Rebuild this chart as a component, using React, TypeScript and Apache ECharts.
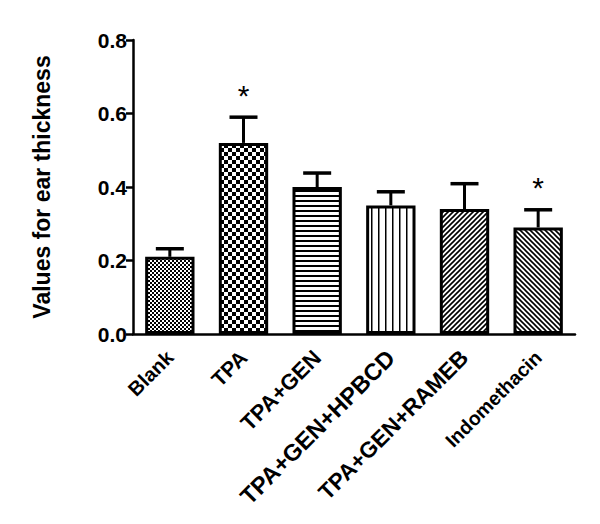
import React, { useEffect, useRef } from "react";
import * as echarts from "echarts";

const categories = ["Blank", "TPA", "TPA+GEN", "TPA+GEN+HPBCD", "TPA+GEN+RAMEB", "Indomethacin"];
const means = [0.21, 0.52, 0.40, 0.35, 0.34, 0.29];
const errors = [0.022, 0.07, 0.038, 0.037, 0.069, 0.048];
const significant = [false, true, false, false, false, true];
const yTicks = [0, 0.2, 0.4, 0.6, 0.8];

// per-label font sizes (styling only)
const labelSizes = [20, 21, 22, 23.5, 22.5, 19.5];

function makeCanvas(w: number, h: number, draw: (ctx: CanvasRenderingContext2D) => void) {
  const c = document.createElement("canvas");
  c.width = w;
  c.height = h;
  const ctx = c.getContext("2d")!;
  ctx.fillStyle = "#fff";
  ctx.fillRect(0, 0, w, h);
  ctx.fillStyle = "#000";
  ctx.strokeStyle = "#000";
  draw(ctx);
  return c;
}

function checker(cell: number) {
  return makeCanvas(cell * 2, cell * 2, (ctx) => {
    ctx.fillRect(0, 0, cell, cell);
    ctx.fillRect(cell, cell, cell, cell);
  });
}

function horiz() {
  return makeCanvas(6, 5, (ctx) => {
    ctx.fillRect(0, 0, 6, 2);
  });
}

function vert() {
  return makeCanvas(7, 7, (ctx) => {
    ctx.fillRect(0, 0, 1.5, 7);
  });
}

function diag(forward: boolean) {
  const s = 5;
  return makeCanvas(s, s, (ctx) => {
    ctx.lineWidth = 1.6;
    ctx.beginPath();
    for (let k = -1; k <= 1; k++) {
      if (forward) {
        ctx.moveTo(k * s - 1, s + 1);
        ctx.lineTo(k * s + s + 1, -1);
      } else {
        ctx.moveTo(k * s - 1, -1);
        ctx.lineTo(k * s + s + 1, s + 1);
      }
    }
    ctx.stroke();
  });
}

export default function App() {
  const ref = useRef<HTMLDivElement>(null);
  useEffect(() => {
    if (!ref.current) return;
    const chart = echarts.init(ref.current, null, { renderer: "svg" });
    const patterns = [checker(2), checker(4), horiz(), vert(), diag(true), diag(false)];
    const font = "'Liberation Sans', Arial, sans-serif";
    const rich: Record<string, any> = {};
    labelSizes.forEach((s, i) => {
      rich["s" + i] = { fontSize: s, fontWeight: "bold", color: "#000", fontFamily: font };
    });
    chart.setOption({
      animation: false,
      backgroundColor: "#fff",
      grid: { left: 133, right: 25, top: 40, bottom: 190 },
      xAxis: {
        type: "category",
        data: categories,
        axisLine: { lineStyle: { color: "#000", width: 2.5 } },
        axisTick: { alignWithLabel: true, length: 7, lineStyle: { color: "#000", width: 2.5 } },
        axisLabel: {
          rotate: 45,
          fontSize: 20,
          fontWeight: "bold",
          color: "#000",
          fontFamily: font,
          margin: 20,
          interval: 0,
          formatter: (v: string, idx: number) => `{s${idx}|${v}}`,
          rich,
        },
      },
      yAxis: {
        type: "value",
        min: yTicks[0],
        max: yTicks[yTicks.length - 1],
        interval: 0.2,
        name: "Values for ear thickness",
        nameLocation: "middle",
        nameGap: 80,
        nameTextStyle: { fontSize: 23, fontWeight: "bold", color: "#000", fontFamily: font },
        splitLine: { show: false },
        axisLine: { show: true, lineStyle: { color: "#000", width: 2.5 } },
        axisTick: { show: true, length: 7, lineStyle: { color: "#000", width: 2.5 } },
        axisLabel: {
          formatter: (v: number) => v.toFixed(1),
          fontSize: 21,
          fontWeight: "bold",
          color: "#000",
          fontFamily: font,
          margin: 6,
        },
      },
      series: [
        {
          type: "bar",
          barWidth: "67%",
          data: means.map((v, i) => ({
            value: v,
            itemStyle: {
              color: { image: patterns[i], repeat: "repeat" },
              borderColor: "#000",
              borderWidth: 3,
            },
          })),
        },
        {
          type: "custom",
          data: means.map((v, i) => [i, v, errors[i], significant[i] ? 1 : 0]),
          z: 5,
          renderItem: (params: any, api: any) => {
            const i = api.value(0);
            const m = api.value(1);
            const e = api.value(2);
            const sig = api.value(3);
            const base = api.coord([i, m]);
            const top = api.coord([i, m + e]);
            const half = 14;
            const children: any[] = [
              {
                type: "line",
                shape: { x1: base[0], y1: base[1], x2: top[0], y2: top[1] },
                style: { stroke: "#000", lineWidth: 3 },
              },
              {
                type: "line",
                shape: { x1: top[0] - half, y1: top[1], x2: top[0] + half, y2: top[1] },
                style: { stroke: "#000", lineWidth: 3.5 },
              },
            ];
            if (sig) {
              children.push({
                type: "text",
                style: {
                  text: "*",
                  x: top[0],
                  y: top[1] - 7,
                  align: "center",
                  verticalAlign: "bottom",
                  fontSize: 30,
                  fontFamily: font,
                  fill: "#000",
                },
              });
            }
            return { type: "group", children };
          },
        },
      ],
    });
    return () => chart.dispose();
  }, []);
  return <div ref={ref} style={{ width: 600, height: 524, margin: -8 }} />;
}
